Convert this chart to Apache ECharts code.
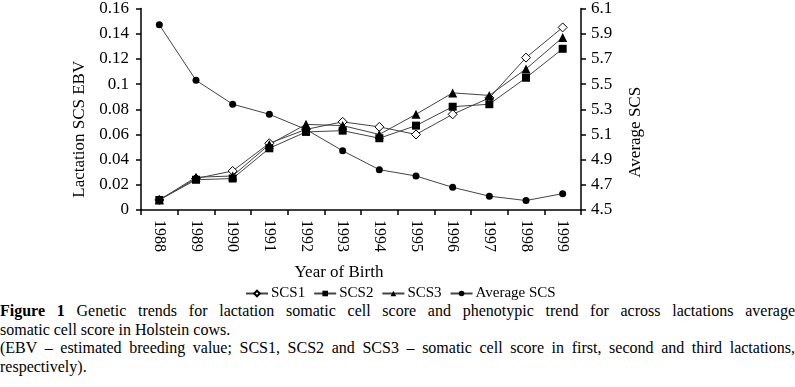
<!DOCTYPE html>
<html>
<head>
<meta charset="utf-8">
<script src="https://cdn.jsdelivr.net/npm/echarts@6/dist/echarts.min.js"></script>
<style>
  body { margin: 0; background: #fff; }
  #chart { position: absolute; left: 0; top: 0; width: 795px; height: 300px; }
  #caption {
    position: absolute; left: 0; top: 302px; width: 795px;
    font-family: "Liberation Serif", "Times New Roman", serif;
    font-size: 16px; line-height: 18.5px; color: #000;
  }
  #caption div { text-align: justify; white-space: nowrap; }
  #caption .full { text-align-last: justify; }
</style>
</head>
<body>
<div id="chart"></div>
<div id="caption">
  <div class="full"><b>Figure 1</b> Genetic trends for lactation somatic cell score and phenotypic trend for across lactations average</div>
  <div>somatic cell score in Holstein cows.</div>
  <div class="full">(EBV – estimated breeding value; SCS1, SCS2 and SCS3 – somatic cell score in first, second and third lactations,</div>
  <div>respectively).</div>
</div>
<script>
let years = ['1988', '1989', '1990', '1991', '1992', '1993', '1994', '1995', '1996', '1997', '1998', '1999']
let scs1 = [0.008, 0.025, 0.031, 0.053, 0.064, 0.070, 0.066, 0.060, 0.076, 0.089, 0.121, 0.145]
let scs2 = [0.008, 0.024, 0.025, 0.049, 0.062, 0.063, 0.057, 0.067, 0.082, 0.084, 0.105, 0.128]
let scs3 = [0.008, 0.026, 0.027, 0.052, 0.068, 0.067, 0.060, 0.076, 0.093, 0.091, 0.112, 0.137]
let avgScs = [5.97, 5.53, 5.34, 5.26, 5.14, 4.97, 4.82, 4.77, 4.68, 4.61, 4.575, 4.63]

let font = 'Liberation Serif'

function lineSeries(name, data, symbol, size, open, axis) {
    return {
        name: name,
        type: 'line',
        yAxisIndex: axis,
        data: data,
        symbol: symbol,
        symbolSize: size,
        showSymbol: true,
        lineStyle: { color: '#444', width: 1 },
        itemStyle: {
            color: open ? '#fff' : '#000',
            borderColor: '#000',
            borderWidth: open ? 1 : 0
        },
        emphasis: { disabled: true },
        z: axis === 1 ? 1 : 2
    }
}

let axisCommon = {
    axisLine: { show: true, lineStyle: { color: '#000', width: 1.5 } },
    axisTick: { show: true, length: 5, lineStyle: { color: '#000', width: 1.5 } },
    splitLine: { show: false },
    axisLabel: { color: '#000', fontFamily: font, fontSize: 17 }
}

let chart = echarts.init(document.getElementById('chart'))
let option = {
    backgroundColor: '#fff',
    animation: false,
    grid: { left: 141, right: 214, top: 6, bottom: 90 },
    legend: {
        left: 240,
        top: 281,
        itemWidth: 22,
        itemHeight: 7,
        itemGap: 8,
        textStyle: { color: '#000', fontFamily: font, fontSize: 15, padding: [0, 0, 0, -2] },
        data: ['SCS1', 'SCS2', 'SCS3', 'Average SCS']
    },
    xAxis: {
        type: 'category',
        data: years,
        boundaryGap: true,
        name: 'Year of Birth',
        nameLocation: 'middle',
        nameGap: 54,
        nameTextStyle: { color: '#000', fontFamily: font, fontSize: 17, padding: [0, 44, 0, 0] },
        axisLine: axisCommon.axisLine,
        axisTick: { show: true, length: 5, alignWithLabel: false, lineStyle: { color: '#000', width: 1.5 } },
        splitLine: { show: false },
        axisLabel: { color: '#000', fontFamily: font, fontSize: 16, rotate: -90, margin: 10 }
    },
    yAxis: [
        Object.assign({}, axisCommon, {
            type: 'value',
            min: 0,
            max: 0.16,
            interval: 0.02,
            name: 'Lactation SCS EBV',
            nameLocation: 'middle',
            nameRotate: 90,
            nameGap: 52,
            nameTextStyle: { color: '#000', fontFamily: font, fontSize: 17, padding: [0, 40, 0, 0] },
            axisLabel: Object.assign({}, axisCommon.axisLabel, { margin: 12 })
        }),
        Object.assign({}, axisCommon, {
            type: 'value',
            position: 'right',
            min: 4.5,
            max: 6.1,
            interval: 0.2,
            name: 'Average SCS',
            nameLocation: 'middle',
            nameRotate: 90,
            nameGap: 46,
            nameTextStyle: { color: '#000', fontFamily: font, fontSize: 17, padding: [0, 46, 0, 0] },
            axisLabel: Object.assign({}, axisCommon.axisLabel, {
                margin: 10,
                formatter: function (v) { return v.toFixed(1) }
            })
        })
    ],
    series: [
        lineSeries('SCS1', scs1, 'diamond', 9, true, 0),
        lineSeries('SCS2', scs2, 'rect', 8, false, 0),
        lineSeries('SCS3', scs3, 'triangle', 9, false, 0),
        lineSeries('Average SCS', avgScs, 'circle', 7, false, 1)
    ]
}
chart.setOption(option)
</script>
</body>
</html>
